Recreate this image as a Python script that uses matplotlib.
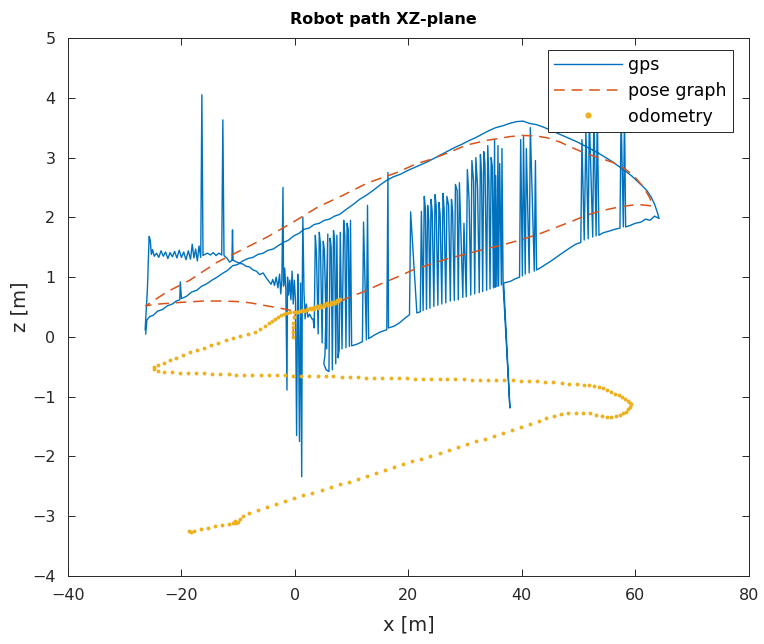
import numpy as np
import matplotlib
matplotlib.use("Agg")
import matplotlib.pyplot as plt

# ---------------- data ----------------
# GPS track, outbound leg along the upper side (x, z)
gps_outbound = [
    (-26.3, 0.05), (-26.1, 0.28), (-25.6, 0.34), (-25.0, 0.36), (-24.2, 0.43), (-23.3, 0.46),
    (-22.5, 0.52), (-21.6, 0.55), (-20.9, 0.60), (-20.3, 0.62), (-20.2, 0.92), (-20.0, 0.64),
    (-19.1, 0.68), (-18.2, 0.75), (-17.3, 0.78), (-16.4, 0.85), (-15.5, 0.89), (-14.6, 0.95),
    (-13.7, 1.00), (-12.8, 1.06), (-11.9, 1.11), (-11.0, 1.19), (-10.1, 1.21), (-9.2, 1.27),
    (-8.3, 1.31), (-7.4, 1.33), (-6.5, 1.38), (-5.6, 1.40), (-4.7, 1.45), (-3.8, 1.47),
    (-2.9, 1.53), (-2.0, 1.58), (-1.1, 1.62), (-0.2, 1.69), (0.7, 1.73), (1.6, 1.80),
    (2.5, 1.82), (3.4, 1.88), (4.3, 1.90), (5.2, 1.95), (6.1, 1.97), (7.0, 2.02),
    (7.9, 2.05), (9.0, 2.13), (10.2, 2.21), (11.4, 2.30), (12.6, 2.37), (13.8, 2.45),
    (15.0, 2.54), (16.2, 2.62), (17.4, 2.68), (18.6, 2.72), (19.8, 2.78), (21.0, 2.83),
    (22.2, 2.88), (23.4, 2.93), (24.6, 2.99), (25.8, 3.05), (27.0, 3.11), (28.2, 3.17),
    (29.4, 3.22), (30.6, 3.28), (31.8, 3.33), (33.0, 3.39), (34.2, 3.45), (35.4, 3.50),
    (36.6, 3.53), (37.8, 3.57), (39.0, 3.60), (40.2, 3.61), (41.4, 3.57), (42.6, 3.55),
    (43.8, 3.51), (45.0, 3.46), (46.2, 3.41), (47.4, 3.36), (48.6, 3.31), (49.8, 3.26),
    (51.0, 3.20), (52.2, 3.14), (53.4, 3.08), (54.6, 3.01), (55.8, 2.94), (57.0, 2.86),
    (58.2, 2.78), (59.4, 2.69), (60.4, 2.60), (61.3, 2.52), (62.1, 2.44), (62.8, 2.34),
    (63.4, 2.22), (63.9, 2.08), (64.2, 1.98),
]

# GPS track, return leg along the lower side with multipath jumps (x, z)
gps_return = [
    (63.4, 2.02), (62.6, 1.95), (61.8, 1.97), (61.0, 1.92), (60.0, 1.90), (59.0, 1.86),
    (58.3, 1.84), (58.1, 3.75), (57.9, 1.84), (57.5, 3.75), (57.3, 1.82), (56.4, 1.80),
    (55.4, 1.77), (54.3, 1.74), (53.6, 1.70), (53.3, 3.75), (53.1, 1.69), (52.7, 3.75),
    (52.5, 1.67), (51.9, 3.70), (51.7, 1.64), (51.3, 3.45), (51.0, 1.62), (50.6, 3.30),
    (50.4, 1.58), (49.5, 1.55), (48.5, 1.49), (47.4, 1.42), (46.2, 1.34), (45.0, 1.26),
    (44.0, 1.20), (43.0, 1.14), (42.6, 1.12), (42.4, 2.95), (42.2, 1.10), (41.5, 3.50),
    (41.3, 1.07), (40.8, 3.15), (40.6, 1.05), (40.3, 3.35), (40.1, 1.02), (39.8, 3.30),
    (39.6, 1.00), (38.8, 0.97), (38.0, 0.93), (37.2, 0.91), (36.8, 0.90), (37.9, -1.19),
    (36.7, 0.88), (36.5, 3.15), (36.4, 0.87), (36.1, 2.90), (35.9, 0.85), (35.8, 3.20),
    (35.6, 0.84), (35.4, 2.70), (35.3, 0.83), (35.2, 3.30), (35.0, 0.82), (34.8, 2.85),
    (34.6, 3.00), (34.4, 0.80), (34.2, 2.60), (34.0, 3.20), (33.8, 0.78), (33.5, 2.90),
    (33.3, 3.10), (33.1, 0.76), (32.9, 2.75), (32.7, 3.05), (32.5, 0.74), (32.2, 2.50),
    (31.9, 3.00), (31.7, 0.72), (31.5, 2.60), (31.2, 2.95), (31.0, 0.70), (30.7, 2.30),
    (30.4, 2.80), (30.2, 0.67), (29.8, 1.90), (29.6, 0.66), (29.0, 2.58), (28.8, 0.62),
    (28.6, 2.45), (28.3, 2.55), (28.1, 0.61), (27.8, 2.10), (27.6, 2.30), (27.4, 0.60),
    (27.1, 2.20), (26.8, 2.35), (26.6, 0.57), (26.3, 2.15), (26.1, 2.40), (25.9, 0.55),
    (25.6, 2.05), (25.4, 2.25), (25.2, 0.53), (24.9, 2.20), (24.7, 2.38), (24.5, 0.51),
    (24.2, 2.10), (24.0, 2.30), (23.8, 0.48), (23.6, 1.95), (23.4, 2.20), (23.2, 0.46),
    (23.0, 2.15), (22.8, 2.35), (22.6, 0.44), (22.3, 2.10), (22.1, 0.42), (21.5, 0.40),
    (20.4, 2.09), (20.2, 0.37), (19.5, 0.32), (18.5, 0.24), (17.5, 0.18), (16.5, 0.15),
    (16.4, 2.75), (16.2, 0.12), (15.0, 0.08), (14.0, 0.03), (13.0, -0.03), (12.8, 2.20),
    (12.6, -0.05), (12.1, 1.92), (11.9, -0.08), (11.0, -0.12), (10.0, -0.15), (9.8, 1.95),
    (9.6, -0.16), (9.4, 1.80), (9.2, 1.90), (9.0, -0.18), (8.8, 1.70), (8.6, 1.95),
    (8.3, -0.20), (8.0, 1.75), (7.8, -0.22), (7.6, -0.35), (7.4, 1.70), (7.2, -0.45),
    (7.0, 1.60), (6.8, 1.78), (6.6, -0.55), (6.4, 1.50), (6.2, 1.65), (6.0, -0.58),
    (5.5, -0.55), (5.1, -0.45), (5.3, -0.30), (5.8, 1.72), (5.6, -0.20), (5.2, 1.45),
    (5.0, 1.60), (4.8, -0.10), (4.5, 1.55), (4.3, 1.75), (4.1, 0.05), (3.8, 1.40),
    (3.6, 1.70), (3.4, 0.15), (3.2, 0.30),
]

# GPS track, noisy section near the origin and the left-hand plateau (x, z)
gps_left = [
    (3.0, 0.30), (2.6, 0.38), (2.3, 0.33), (2.0, 0.55), (1.8, 0.30), (1.6, 0.75),
    (1.4, 2.00), (1.3, 0.85), (1.2, -2.34), (1.0, 0.90), (0.8, -1.75), (0.6, 0.70),
    (0.5, 1.05), (0.3, -1.65), (0.1, 0.60), (-0.1, 0.95), (-0.3, 0.55), (-0.5, 1.10),
    (-0.7, 0.62), (-0.9, 0.95), (-1.1, 0.70), (-1.3, 1.00), (-1.4, -0.89), (-1.6, 0.80),
    (-1.8, 1.15), (-2.0, 0.85), (-2.1, 2.50), (-2.3, 0.95), (-2.5, 0.72), (-2.7, 1.05),
    (-3.0, 0.82), (-3.3, 1.00), (-3.6, 0.86), (-3.9, 0.96), (-4.2, 0.88), (-4.6, 0.93),
    (-5.0, 0.98), (-5.6, 1.07), (-6.2, 1.04), (-6.8, 1.10), (-7.4, 1.12), (-8.0, 1.17),
    (-8.6, 1.18), (-9.2, 1.22), (-9.8, 1.23), (-10.4, 1.26), (-10.9, 1.28), (-11.0, 1.79),
    (-11.1, 1.28), (-11.5, 1.25), (-12.0, 1.32), (-12.5, 1.36), (-12.7, 3.63), (-12.9, 1.37),
    (-13.4, 1.40), (-13.9, 1.36), (-14.4, 1.41), (-14.9, 1.37), (-15.4, 1.40), (-15.9, 1.38),
    (-16.2, 1.36), (-16.4, 4.05), (-16.6, 1.33), (-16.9, 1.52), (-17.2, 1.27), (-17.5, 1.47),
    (-17.8, 1.32), (-18.1, 1.55), (-18.4, 1.30), (-18.8, 1.44), (-19.2, 1.29), (-19.6, 1.42),
    (-20.0, 1.33), (-20.4, 1.45), (-20.8, 1.32), (-21.2, 1.43), (-21.6, 1.34), (-22.0, 1.41),
    (-22.4, 1.31), (-22.8, 1.42), (-23.2, 1.35), (-23.6, 1.44), (-24.0, 1.33), (-24.4, 1.40),
    (-24.8, 1.35), (-25.1, 1.46), (-25.3, 1.38), (-25.5, 1.62), (-25.7, 1.68), (-26.0, 0.80),
    (-26.4, 0.12),
]

# Optimised pose graph (x, z)
pose_graph = [
    (-0.3, 0.00), (-0.3, 0.15), (-0.2, 0.30), (0.3, 0.42), (2.0, 0.46), (4.0, 0.50),
    (6.0, 0.53), (7.5, 0.56), (4.5, 0.51), (7.5, 0.57), (9.7, 0.67), (12.0, 0.75),
    (15.0, 0.88), (18.0, 1.00), (20.8, 1.12), (24.0, 1.22), (27.0, 1.31), (30.3, 1.39),
    (33.5, 1.47), (36.7, 1.54), (40.0, 1.63), (43.0, 1.72), (46.0, 1.83), (49.0, 1.94),
    (51.5, 2.04), (54.0, 2.11), (56.5, 2.16), (59.0, 2.20), (61.0, 2.21), (63.0, 2.19),
    (62.6, 2.32), (61.5, 2.50), (59.6, 2.71), (58.0, 2.82), (56.0, 2.92), (53.5, 3.00),
    (51.5, 3.06), (49.0, 3.16), (46.7, 3.26), (44.5, 3.33), (42.6, 3.36), (40.0, 3.37),
    (37.9, 3.35), (34.0, 3.29), (30.3, 3.21), (27.0, 3.08), (24.0, 2.97), (21.5, 2.90),
    (18.0, 2.75), (15.0, 2.65), (12.7, 2.57), (8.5, 2.37), (4.0, 2.17), (-0.3, 1.92),
    (-4.9, 1.67), (-9.7, 1.44), (-13.7, 1.25), (-18.5, 0.95), (-22.6, 0.75), (-25.0, 0.60),
    (-26.3, 0.52), (-24.0, 0.55), (-19.7, 0.58), (-16.0, 0.60), (-12.7, 0.60), (-10.0, 0.59),
    (-7.9, 0.57), (-5.0, 0.52), (-2.6, 0.48), (-0.5, 0.44), (0.9, 0.42),
]

# Wheel odometry samples (x, z)
odometry = [
    (-0.3, 0.00), (-0.3, 0.08), (-0.3, 0.16), (-0.25, 0.24), (-0.1, 0.33), (0.3, 0.42),
    (0.9, 0.44), (1.5, 0.45), (2.1, 0.47), (2.7, 0.48), (3.3, 0.50), (3.9, 0.51),
    (4.5, 0.53), (5.1, 0.55), (5.7, 0.56), (6.3, 0.58), (6.9, 0.59), (7.5, 0.61),
    (8.0, 0.63), (7.6, 0.60), (7.0, 0.57), (6.4, 0.55), (5.8, 0.53), (5.2, 0.51),
    (4.6, 0.50), (4.0, 0.48), (3.4, 0.47), (2.8, 0.46), (2.2, 0.45), (1.6, 0.44),
    (1.0, 0.43), (0.4, 0.42), (-0.2, 0.42), (-0.8, 0.41), (-1.4, 0.40), (-2.0, 0.38),
    (-2.5, 0.36), (-3.0, 0.33), (-3.5, 0.30), (-4.0, 0.27), (-4.6, 0.23), (-5.3, 0.18),
    (-6.1, 0.13), (-7.1, 0.09), (-8.3, 0.05), (-9.6, 0.02), (-10.9, -0.02), (-12.2, -0.06),
    (-13.5, -0.10), (-14.8, -0.14), (-16.1, -0.18), (-17.3, -0.22), (-18.5, -0.26), (-19.7, -0.30),
    (-20.9, -0.35), (-22.0, -0.39), (-23.1, -0.43), (-24.1, -0.47), (-24.8, -0.50), (-24.9, -0.54),
    (-24.2, -0.57), (-23.0, -0.58), (-21.6, -0.59), (-20.2, -0.60), (-18.8, -0.60), (-17.4, -0.61),
    (-16.0, -0.61), (-14.6, -0.62), (-13.2, -0.62), (-11.7, -0.62), (-10.3, -0.63), (-8.9, -0.63),
    (-7.5, -0.63), (-6.0, -0.63), (-4.6, -0.64), (-3.2, -0.64), (-1.8, -0.64), (-0.3, -0.65),
    (1.1, -0.65), (2.5, -0.65), (4.0, -0.66), (5.4, -0.66), (6.8, -0.66), (8.3, -0.67),
    (9.7, -0.67), (11.1, -0.67), (12.6, -0.68), (14.0, -0.68), (15.4, -0.68), (16.9, -0.69),
    (18.3, -0.69), (19.7, -0.69), (21.2, -0.70), (22.6, -0.70), (24.0, -0.70), (25.5, -0.71),
    (26.9, -0.71), (28.3, -0.71), (29.8, -0.71), (31.2, -0.72), (32.6, -0.72), (34.1, -0.72),
    (35.5, -0.72), (36.9, -0.72), (38.4, -0.72), (39.8, -0.73), (41.2, -0.73), (42.7, -0.74),
    (44.1, -0.75), (45.5, -0.76), (47.0, -0.77), (48.4, -0.78), (49.8, -0.79), (51.0, -0.80),
    (51.9, -0.81), (52.8, -0.82), (53.6, -0.84), (54.4, -0.86), (55.1, -0.89), (55.8, -0.92),
    (56.5, -0.95), (57.1, -0.98), (57.7, -1.01), (58.2, -1.04), (58.7, -1.07), (59.1, -1.10),
    (59.3, -1.13), (59.1, -1.17), (58.8, -1.21), (58.4, -1.25), (57.9, -1.28), (57.3, -1.31),
    (56.6, -1.33), (55.8, -1.34), (55.0, -1.34), (54.1, -1.32), (53.1, -1.30), (52.0, -1.28),
    (50.8, -1.27), (49.5, -1.27), (48.2, -1.27), (46.9, -1.29), (45.6, -1.32), (44.3, -1.36),
    (43.0, -1.40), (41.5, -1.46), (39.9, -1.51), (38.3, -1.56), (36.7, -1.61), (35.1, -1.66),
    (33.5, -1.70), (31.9, -1.75), (30.3, -1.80), (28.7, -1.85), (27.1, -1.89), (25.5, -1.94),
    (23.9, -1.99), (22.3, -2.04), (20.7, -2.08), (19.1, -2.13), (17.5, -2.18), (15.9, -2.23),
    (14.3, -2.27), (12.7, -2.32), (11.1, -2.37), (9.5, -2.42), (7.9, -2.46), (6.3, -2.51),
    (4.7, -2.56), (3.1, -2.61), (1.5, -2.65), (-0.1, -2.70), (-1.7, -2.75), (-3.3, -2.80),
    (-4.9, -2.84), (-6.5, -2.89), (-8.1, -2.94), (-9.2, -3.00), (-9.7, -3.05), (-10.1, -3.09),
    (-10.6, -3.08), (-11.0, -3.11), (-10.4, -3.12), (-11.6, -3.13), (-12.8, -3.14), (-14.1, -3.16),
    (-15.4, -3.19), (-16.6, -3.22), (-17.7, -3.25), (-18.4, -3.27), (-18.7, -3.25),
]

x_ticks = [-40, -20, 0, 20, 40, 60, 80]
z_ticks = [-4, -3, -2, -1, 0, 1, 2, 3, 4, 5]

# ---------------- figure ----------------
gps = np.array(gps_outbound + gps_return + gps_left)
pose = np.array(pose_graph)
odo = np.array(odometry)

plt.rcParams['font.family'] = ['DejaVu Sans']
fig = plt.figure(figsize=(7.64, 6.44), dpi=100)
ax = fig.add_axes([0.089, 0.1056, 0.891, 0.8354])

ax.plot(gps[:, 0], gps[:, 1], color='#0072BD', lw=1.0, label='gps', zorder=2)
ax.plot(pose[:, 0], pose[:, 1], color='#D95319', lw=1.1, ls=(0, (7, 4.5)),
        label='pose graph', zorder=3)
ax.plot(odo[:, 0], odo[:, 1], ls='none', marker='o', ms=2.8, mew=0,
        color='#EDB120', label='odometry', zorder=4)

ax.set_xlim(-40, 80)
ax.set_ylim(-4, 5)
ax.set_xticks(x_ticks)
ax.set_yticks(z_ticks)
ax.tick_params(direction='in', top=True, right=True, length=5, width=0.7,
               labelsize=11.5, colors='0.15')
ax.tick_params(axis='x', pad=9)
ax.tick_params(axis='y', pad=9)
for s in ax.spines.values():
    s.set_color('0.15')
    s.set_linewidth(0.7)

ax.set_title('Robot path XZ-plane', fontsize=11.5, fontweight='bold', pad=10, x=0.464)
ax.set_xlabel('x [m]', fontsize=14, color='0.15', labelpad=9)
ax.set_ylabel('z [m]', fontsize=14, color='0.15', labelpad=2)

leg = ax.legend(loc='upper right', bbox_to_anchor=(0.977, 0.978), borderaxespad=0,
                fontsize=12.5, handlelength=3.9, handletextpad=0.4, labelspacing=0.45,
                borderpad=0.35, fancybox=False, framealpha=1, edgecolor='0.15',
                markerscale=1.6)
leg.get_frame().set_linewidth(0.7)

fig.savefig('out.png', dpi=100)
